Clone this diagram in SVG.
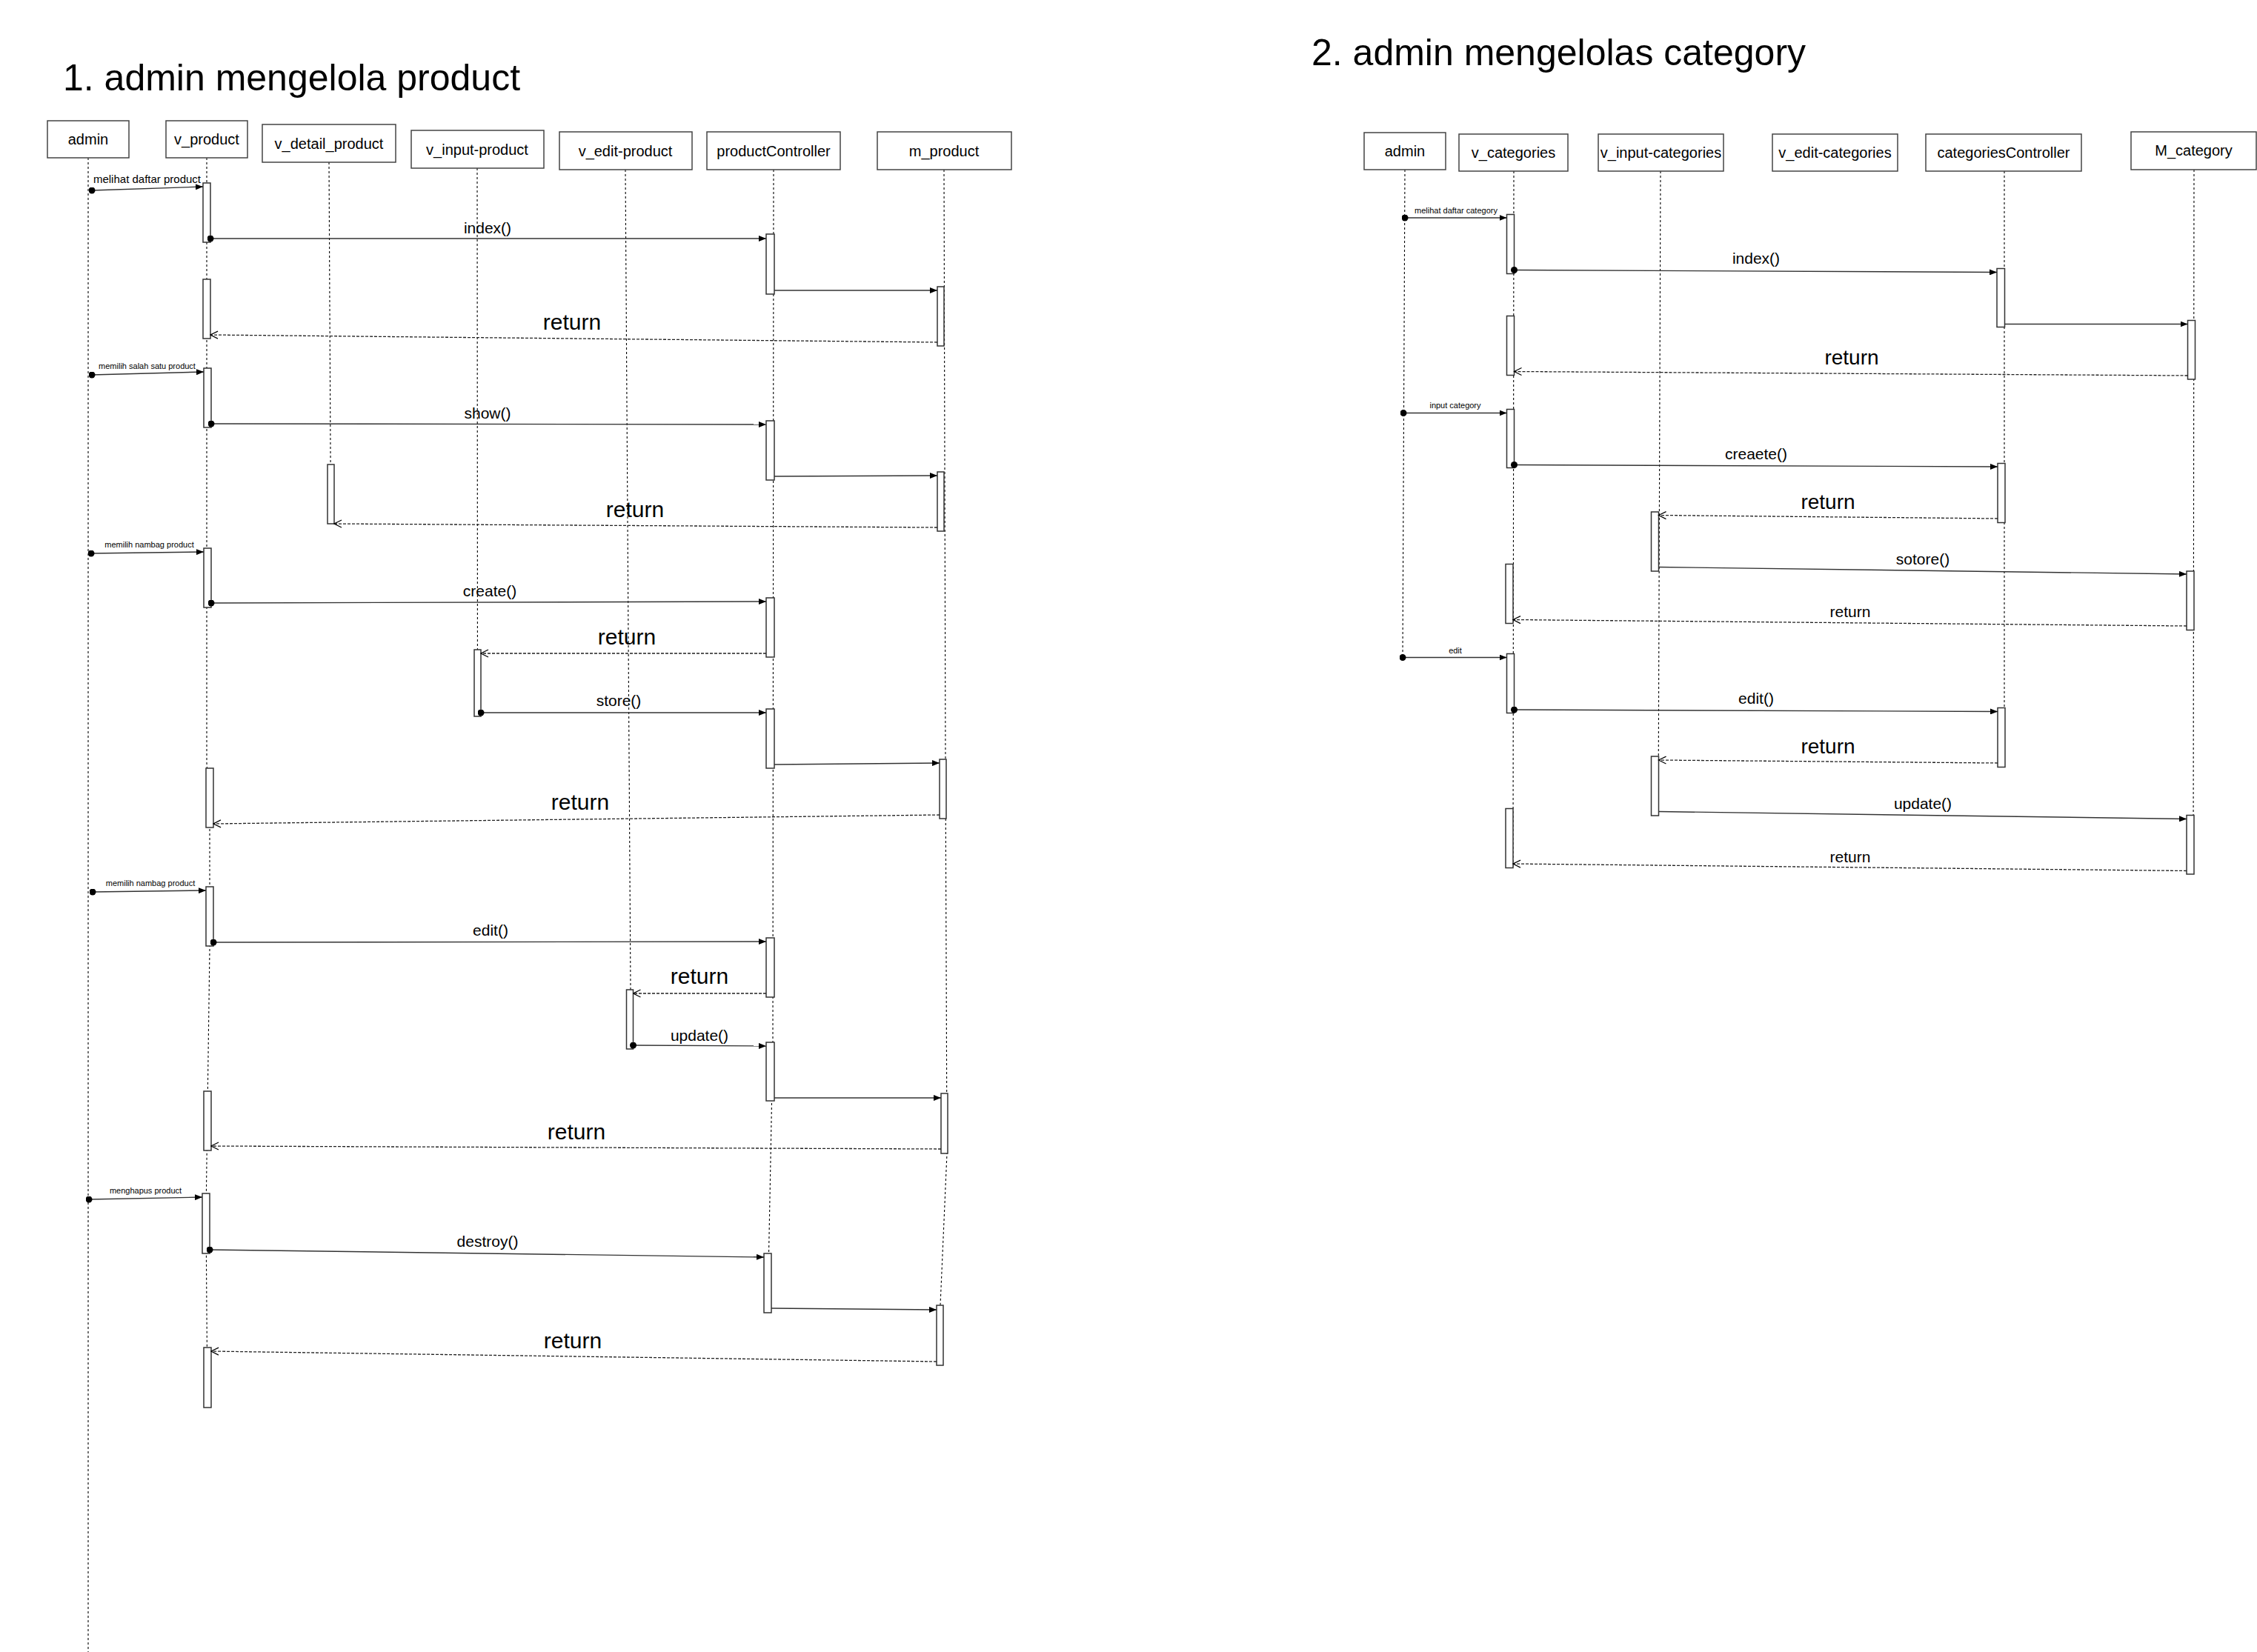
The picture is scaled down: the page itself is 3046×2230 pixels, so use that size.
<svg xmlns="http://www.w3.org/2000/svg" width="3046" height="2230" viewBox="0 0 3046 2230">
<style>
text{font-family:"Liberation Sans",Arial,sans-serif;fill:#000}
.title{font-size:50px}
.bl{font-size:20px;text-anchor:middle}
.ml{font-size:21px;text-anchor:middle}
.rl{font-size:30px;text-anchor:middle}
.rm{font-size:28px;text-anchor:middle}
.sl{font-size:11px;text-anchor:middle}
.box{fill:#fff;stroke:#444;stroke-width:1.5}
.act{fill:#fff;stroke:#333;stroke-width:1.5}
.life{fill:none;stroke:#000;stroke-width:1.1;stroke-dasharray:3 3}
.msg{fill:none;stroke:#333;stroke-width:1.4;marker-end:url(#block)}
.dot{marker-start:url(#dot)}
.ret{fill:none;stroke:#222;stroke-width:1.3;stroke-dasharray:4 2;marker-end:url(#open)}
</style>
<defs>
<marker id="block" viewBox="0 0 10 8" refX="10" refY="4" markerWidth="10" markerHeight="8" markerUnits="userSpaceOnUse" orient="auto"><path d="M0,0 L10,4 L0,8 Z" fill="#000"/></marker>
<marker id="open" viewBox="0 0 12 12" refX="11" refY="6" markerWidth="12" markerHeight="12" markerUnits="userSpaceOnUse" orient="auto"><path d="M1,1 L11,6 L1,11" fill="none" stroke="#000" stroke-width="1.2"/></marker>
<marker id="dot" viewBox="0 0 10 10" refX="5" refY="5" markerWidth="9" markerHeight="9" markerUnits="userSpaceOnUse"><circle cx="5" cy="5" r="5" fill="#000"/></marker>
</defs>
<rect width="3046" height="2230" fill="#fff"/>

<text class="title" x="85" y="122">1. admin mengelola product</text>
<text class="title" x="1770" y="88">2. admin mengelolas category</text>

<g id="lifelines">
<polyline class="life" points="119,213 119,2230"/>
<polyline class="life" points="279,213 279,1030 283,1100 283,1280 278,1640 280,1900"/>
<polyline class="life" points="444,219 446.5,707"/>
<polyline class="life" points="644,227 644.5,967"/>
<polyline class="life" points="844,229 851,1336 850,1416"/>
<polyline class="life" points="1044,229 1043,1410 1036,1772"/>
<polyline class="life" points="1274,229 1276,1030 1278,1557 1269,1762 1268,1843"/>
<polyline class="life" points="1896,229 1893,888"/>
<polyline class="life" points="2043,231 2042,1171"/>
<polyline class="life" points="2241,231 2238,1101"/>
<polyline class="life" points="2705,231 2705,1035"/>
<polyline class="life" points="2961,229 2960,1180"/>
</g>

<g id="admin1"><rect class="box" x="64" y="163" width="110" height="50"/><text class="bl" x="119" y="195">admin</text></g>
<g id="v_product"><rect class="box" x="224" y="163" width="110" height="50"/><text class="bl" x="279" y="195">v_product</text>
<rect class="act" x="274" y="247" width="10" height="80"/>
<rect class="act" x="274" y="377" width="10" height="80"/>
<rect class="act" x="275" y="497" width="10" height="80"/>
<rect class="act" x="275" y="740" width="10" height="80"/>
<rect class="act" x="278" y="1037" width="10" height="80"/>
<rect class="act" x="278" y="1197" width="10" height="80"/>
<rect class="act" x="275" y="1473" width="10" height="80"/>
<rect class="act" x="273" y="1611" width="10" height="81"/>
<rect class="act" x="275" y="1819" width="10" height="81"/></g>
<g id="v_detail_product"><rect class="box" x="354" y="168" width="180" height="51"/><text class="bl" x="444" y="201">v_detail_product</text>
<rect class="act" x="442" y="627" width="9" height="80"/></g>
<g id="v_input-product"><rect class="box" x="555" y="176" width="179" height="51"/><text class="bl" x="644" y="209">v_input-product</text>
<rect class="act" x="640" y="877" width="9" height="90"/></g>
<g id="v_edit-product"><rect class="box" x="755" y="178" width="179" height="51"/><text class="bl" x="844" y="211">v_edit-product</text>
<rect class="act" x="845.5" y="1336" width="9" height="80"/></g>
<g id="productController"><rect class="box" x="954" y="178" width="180" height="51"/><text class="bl" x="1044" y="211">productController</text>
<rect class="act" x="1034" y="316" width="11" height="81"/>
<rect class="act" x="1034" y="568" width="11" height="80"/>
<rect class="act" x="1034" y="807" width="11" height="80"/>
<rect class="act" x="1034" y="957" width="11" height="80"/>
<rect class="act" x="1034" y="1266" width="11" height="80"/>
<rect class="act" x="1034" y="1407" width="11" height="79"/>
<rect class="act" x="1031" y="1692" width="10" height="80"/></g>
<g id="m_product"><rect class="box" x="1184" y="178" width="181" height="51"/><text class="bl" x="1274" y="211">m_product</text>
<rect class="act" x="1265" y="387" width="9" height="80"/>
<rect class="act" x="1265" y="637" width="9" height="80"/>
<rect class="act" x="1268" y="1025" width="9" height="80"/>
<rect class="act" x="1270" y="1476" width="9" height="81"/>
<rect class="act" x="1264" y="1762" width="9" height="81"/></g>

<g id="admin2"><rect class="box" x="1841" y="179" width="110" height="50"/><text class="bl" x="1896" y="211">admin</text></g>
<g id="v_categories"><rect class="box" x="1969" y="181" width="147" height="50"/><text class="bl" x="2042.5" y="213">v_categories</text>
<rect class="act" x="2033.5" y="289.5" width="10" height="80"/>
<rect class="act" x="2033.5" y="426.5" width="10" height="80"/>
<rect class="act" x="2033.5" y="552.5" width="10" height="79"/>
<rect class="act" x="2032" y="761.5" width="10" height="80"/>
<rect class="act" x="2033.5" y="882.5" width="10" height="80"/>
<rect class="act" x="2032" y="1091.5" width="10" height="80"/></g>
<g id="v_input-categories"><rect class="box" x="2157" y="181" width="169" height="50"/><text class="bl" x="2241.5" y="213">v_input-categories</text>
<rect class="act" x="2228.5" y="691" width="10" height="80"/>
<rect class="act" x="2228.5" y="1021" width="10" height="80"/></g>
<g id="v_edit-categories"><rect class="box" x="2392" y="181" width="169" height="50"/><text class="bl" x="2476.5" y="213">v_edit-categories</text></g>
<g id="categoriesController"><rect class="box" x="2599" y="181" width="210" height="50"/><text class="bl" x="2704" y="213">categoriesController</text>
<rect class="act" x="2695" y="362.5" width="10.5" height="79"/>
<rect class="act" x="2696" y="625.5" width="10" height="80"/>
<rect class="act" x="2696" y="955.5" width="10" height="80"/></g>
<g id="M_category"><rect class="box" x="2876" y="178" width="169" height="51"/><text class="bl" x="2960.5" y="210">M_category</text>
<rect class="act" x="2952.5" y="432.5" width="10" height="79.5"/>
<rect class="act" x="2951" y="771" width="10" height="79.5"/>
<rect class="act" x="2951" y="1100.5" width="10" height="79.5"/></g>

<g id="connectors">
<line class="msg dot" x1="124" y1="257" x2="274" y2="252"/>
<text x="198.5" y="247" style="font-size:15px;text-anchor:middle">melihat daftar product</text>
<line class="msg dot" x1="284" y1="322" x2="1034" y2="322"/>
<text class="ml" x="658" y="315">index()</text>
<line class="msg" x1="1045" y1="392" x2="1265" y2="392"/>
<line class="ret" x1="1265" y1="462" x2="284" y2="452"/>
<text class="rl" x="772" y="445">return</text>

<line class="msg dot" x1="124" y1="506" x2="275" y2="502"/>
<text class="sl" x="198.5" y="498">memilih salah satu product</text>
<line class="msg dot" x1="285" y1="572" x2="1034" y2="573"/>
<text class="ml" x="658" y="565">show()</text>
<line class="msg" x1="1045" y1="643" x2="1265" y2="642"/>
<line class="ret" x1="1265" y1="712" x2="451" y2="707"/>
<text class="rl" x="857" y="698">return</text>

<line class="msg dot" x1="123" y1="747" x2="275" y2="745"/>
<text class="sl" x="201.5" y="739">memilih nambag product</text>
<line class="msg dot" x1="285" y1="814" x2="1034" y2="812"/>
<text class="ml" x="661" y="805">create()</text>
<line class="ret" x1="1034" y1="882" x2="649" y2="882"/>
<text class="rl" x="846" y="870">return</text>
<line class="msg dot" x1="649" y1="962" x2="1034" y2="962"/>
<text class="ml" x="835" y="953">store()</text>
<line class="msg" x1="1045" y1="1032" x2="1268" y2="1030"/>
<line class="ret" x1="1268" y1="1100" x2="288" y2="1112"/>
<text class="rl" x="783" y="1093">return</text>

<line class="msg dot" x1="125" y1="1204" x2="278" y2="1202"/>
<text class="sl" x="203" y="1196">memilih nambag product</text>
<line class="msg dot" x1="288" y1="1272" x2="1034" y2="1271"/>
<text class="ml" x="662" y="1263">edit()</text>
<line class="ret" x1="1034" y1="1341" x2="854.5" y2="1341"/>
<text class="rl" x="944" y="1328">return</text>
<line class="msg dot" x1="854.5" y1="1411" x2="1034" y2="1412"/>
<text class="ml" x="944" y="1405">update()</text>
<line class="msg" x1="1045" y1="1482" x2="1270" y2="1482"/>
<line class="ret" x1="1270" y1="1551" x2="285" y2="1547"/>
<text class="rl" x="778" y="1538">return</text>

<line class="msg dot" x1="120" y1="1619" x2="273" y2="1616"/>
<text class="sl" x="196.5" y="1611">menghapus product</text>
<line class="msg dot" x1="283" y1="1687" x2="1031" y2="1697"/>
<text class="ml" x="658" y="1683">destroy()</text>
<line class="msg" x1="1041" y1="1766" x2="1264" y2="1768"/>
<line class="ret" x1="1264" y1="1838" x2="285" y2="1824"/>
<text class="rl" x="773" y="1820">return</text>

<line class="msg dot" x1="1896" y1="294" x2="2033.5" y2="294"/>
<text class="sl" x="1965" y="287.5">melihat daftar category</text>
<line class="msg dot" x1="2043.5" y1="364.5" x2="2695" y2="367.5"/>
<text class="ml" x="2370" y="356">index()</text>
<line class="msg" x1="2705.5" y1="437.5" x2="2952.5" y2="437.5"/>
<line class="ret" x1="2952.5" y1="507" x2="2043.5" y2="501.5"/>
<text class="rm" x="2499" y="492">return</text>

<line class="msg dot" x1="1894" y1="557.5" x2="2033.5" y2="557.5"/>
<text class="sl" x="1964" y="551">input category</text>
<line class="msg dot" x1="2043.5" y1="627.5" x2="2696" y2="630"/>
<text class="ml" x="2370" y="620">creaete()</text>
<line class="ret" x1="2696" y1="700" x2="2238.5" y2="695.5"/>
<text class="rm" x="2467" y="687">return</text>
<line class="msg" x1="2238.5" y1="765.5" x2="2951" y2="775"/>
<text class="ml" x="2595" y="762">sotore()</text>
<line class="ret" x1="2951" y1="845" x2="2042" y2="836.5"/>
<text class="ml" x="2497" y="833">return</text>

<line class="msg dot" x1="1893" y1="887.5" x2="2033.5" y2="887.5"/>
<text class="sl" x="1964" y="881.5">edit</text>
<line class="msg dot" x1="2043.5" y1="958" x2="2696" y2="960.5"/>
<text class="ml" x="2370" y="950">edit()</text>
<line class="ret" x1="2696" y1="1030" x2="2238.5" y2="1026"/>
<text class="rm" x="2467" y="1017">return</text>
<line class="msg" x1="2238.5" y1="1095.5" x2="2951" y2="1105.5"/>
<text class="ml" x="2595" y="1092">update()</text>
<line class="ret" x1="2951" y1="1175.5" x2="2042" y2="1166"/>
<text class="ml" x="2497" y="1163.5">return</text>
</g>
</svg>
